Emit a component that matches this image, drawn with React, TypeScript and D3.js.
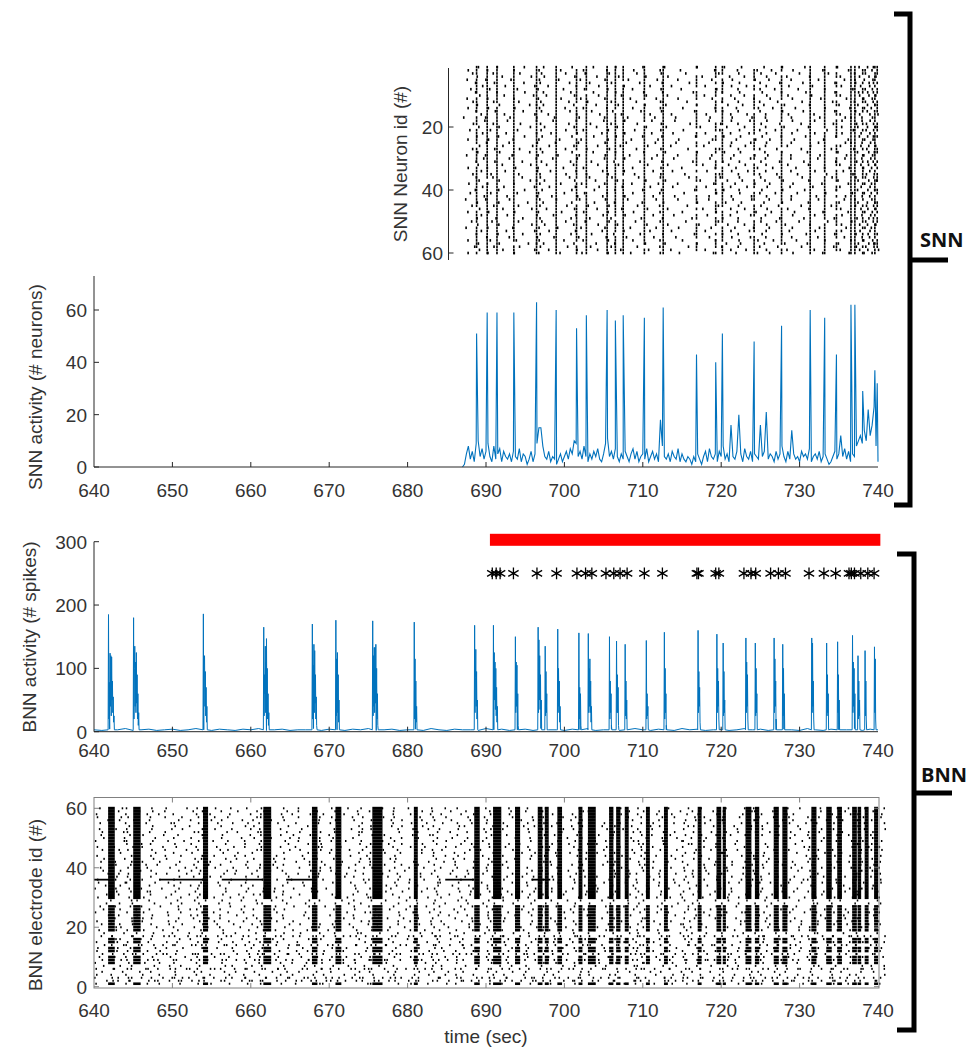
import React from "react";
import * as d3 from "d3";

// shared time axis
const timeTicks = [640, 650, 660, 670, 680, 690, 700, 710, 720, 730, 740];

// SNN activity: baseline sampled every 0.25 s from 687 s, plus the network bursts
const snnStart = 687;
const snnStep = 0.25;
const snnBase = [
  0, 1, 5, 8, 3, 6, 2, 9, 10, 4, 7, 3, 6, 9, 4, 2, 8, 3, 5, 7,
  2, 6, 4, 3, 5, 2, 6, 4, 3, 7, 2, 5, 4, 1, 3, 6, 2, 5, 9, 15,
  15, 8, 4, 3, 6, 2, 4, 3, 1, 3, 5, 2, 4, 6, 3, 7, 5, 10, 9, 4,
  6, 3, 8, 4, 2, 5, 3, 6, 4, 7, 3, 2, 5, 9, 11, 4, 6, 3, 7, 4,
  2, 5, 3, 6, 4, 2, 5, 7, 3, 6, 2, 4, 5, 3, 7, 2, 4, 6, 3, 5,
  2, 18, 8, 4, 3, 5, 2, 6, 4, 3, 7, 2, 5, 3, 2, 4, 3, 1, 4, 2,
  5, 3, 1, 4, 6, 2, 7, 4, 3, 5, 2, 6, 4, 8, 3, 5, 2, 16, 4, 3,
  6, 20, 5, 2, 7, 4, 3, 6, 2, 5, 4, 3, 16, 4, 6, 21, 3, 5, 4, 2,
  6, 3, 5, 8, 4, 2, 6, 3, 14, 5, 3, 4, 2, 6, 4, 5, 3, 7, 2, 4,
  5, 3, 6, 2, 4, 5, 3, 1, 2, 4, 6, 3, 5, 12, 4, 7, 3, 6, 2, 5,
  4, 8, 10, 12, 9, 14, 10, 22, 12, 16, 23, 8, 2,
];
const snnPeakTimes = [
  688.8, 690.15, 691.4, 693.55, 696.45, 698.95, 701.55, 702.8, 705.45, 706.5,
  707.5, 710.2, 712.6, 716.85, 719.3, 720.15, 724.2, 727.7, 731.35, 733.2,
  734.7, 736.55, 737.05, 738.05, 739.6, 739.9,
];
const snnPeakValues = [
  51, 59, 59, 59, 63, 60, 53, 58, 60, 56,
  58, 57, 61, 43, 40, 51, 48, 54, 60, 57,
  43, 62, 62, 29, 37, 32,
];
const neuronOrder = [
  17, 43, 5, 29, 52, 11, 38, 24, 60, 2, 47, 33, 14, 56, 8, 41, 21, 35, 50, 3,
  27, 45, 12, 58, 19, 36, 6, 49, 31, 15, 54, 9, 40, 23, 1, 44, 28, 57, 13, 37,
  20, 51, 4, 32, 46, 10, 26, 59, 16, 39, 7, 53, 22, 34, 48, 18, 42, 30, 55, 25,
];
// where a spike sits inside its time bin (fraction of the bin)
const spikePhase = [
  0.14, 0.15, 0.92, 0.65, 0.35, 0.89, 0.79, 0.32, 0.38, 0.46,
  0.26, 0.43, 0.38, 0.32, 0.79, 0.5, 0.28, 0.84, 0.19, 0.71,
  0.69, 0.39, 0.93, 0.75, 0.1, 0.58, 0.2, 0.97, 0.49, 0.44,
  0.59, 0.23, 0.07, 0.81, 0.64, 0.06, 0.28, 0.62, 0.08, 0.99,
  0.86, 0.28, 0.03, 0.48, 0.25, 0.34, 0.21, 0.17, 0.06, 0.79,
  0.82, 0.14, 0.8,
];

// BNN activity: baseline once per second, bursts sampled every 0.05 s
const bnnBase = [
  3, 2, 4, 3, 5, 2, 3, 4, 2, 3, 4, 2, 3, 5, 3, 2, 4, 3, 2, 4,
  3, 5, 2, 3, 4, 2, 3, 3, 5, 2, 4, 3, 2, 4, 3, 5, 2, 3, 4, 2,
  3, 4, 2, 5, 3, 2, 4, 3, 3, 2, 5, 3, 4, 2, 3, 4, 2, 5, 3, 3,
  2, 4, 3, 5, 2, 3, 4, 2, 3, 5, 3, 2, 4, 3, 2, 5, 3, 4, 2, 3,
  4, 2, 3, 5, 3, 4, 2, 3, 4, 3, 2, 5, 3, 2, 4, 3, 3, 5, 2, 4, 3,
];
const bnnShapeStep = 0.05;
const bnnBurstOnsets = [
  641.8, 645.0, 653.9, 661.6, 667.8, 670.8, 675.5, 680.8, 688.5, 690.9,
  693.7, 696.6, 697.5, 699.1, 701.8, 703.0, 705.7, 706.6, 707.7, 710.4,
  712.7, 717.0, 719.4, 720.2, 723.1, 724.3, 726.7, 727.8, 731.5, 733.4,
  734.8, 736.7, 737.4, 738.3, 739.5,
];
const bnnBurstShapes = [
  [3, 185, 20, 78, 35, 124, 40, 120, 25, 118, 50, 80, 30, 55, 15, 25, 3],
  [3, 180, 20, 100, 135, 40, 110, 30, 125, 45, 90, 20, 60, 10, 30, 3],
  [3, 186, 30, 105, 120, 40, 95, 25, 70, 15, 40, 3],
  [3, 165, 25, 90, 60, 135, 30, 110, 147, 40, 100, 20, 60, 10, 30, 3],
  [3, 170, 20, 105, 60, 138, 30, 128, 45, 90, 20, 55, 10, 3],
  [3, 176, 25, 115, 40, 125, 30, 90, 15, 50, 3],
  [3, 175, 25, 120, 40, 133, 30, 133, 45, 138, 35, 100, 20, 60, 10, 3],
  [3, 173, 20, 115, 30, 80, 15, 40, 3],
  [3, 168, 30, 85, 130, 40, 95, 20, 50, 3],
  [3, 168, 30, 125, 50, 110, 35, 100, 25, 70, 15, 40, 3],
  [3, 150, 30, 110, 40, 105, 20, 60, 10, 3],
  [3, 165, 30, 145, 50, 120, 35, 90, 20, 50, 3],
  [3, 135, 25, 95, 30, 60, 3],
  [3, 162, 30, 100, 40, 80, 15, 40, 3],
  [3, 156, 20, 70, 30, 60, 10, 3],
  [3, 155, 30, 100, 40, 115, 30, 80, 15, 40, 3],
  [3, 150, 20, 80, 30, 60, 10, 3],
  [3, 143, 30, 90, 30, 70, 10, 3],
  [3, 138, 25, 80, 20, 50, 3],
  [3, 144, 20, 60, 25, 40, 3],
  [3, 157, 20, 100, 30, 60, 10, 3],
  [3, 160, 30, 95, 40, 70, 15, 3],
  [3, 154, 30, 100, 40, 80, 20, 3],
  [3, 140, 25, 95, 30, 50, 3],
  [3, 148, 30, 110, 40, 90, 20, 3],
  [3, 140, 25, 100, 30, 60, 3],
  [3, 148, 30, 115, 40, 80, 20, 3],
  [3, 138, 25, 100, 30, 60, 3],
  [3, 148, 30, 140, 40, 80, 20, 3],
  [3, 140, 25, 90, 30, 60, 3],
  [3, 142, 30, 90, 25, 50, 3],
  [3, 152, 30, 110, 40, 100, 20, 60, 3],
  [3, 120, 20, 80, 25, 50, 3],
  [3, 128, 25, 80, 20, 3],
  [3, 134, 30, 115, 20, 3],
];
// how long each burst shows up in the electrode raster (s)
const bnnBurstDur = [
  0.85, 0.95, 0.65, 1.0, 0.7, 0.75, 1.3, 0.5, 0.7, 1.05,
  0.65, 0.6, 0.5, 0.6, 0.5, 1.0, 0.55, 0.55, 0.5, 0.5,
  0.5, 0.5, 0.6, 0.4, 0.75, 0.55, 0.65, 0.65, 0.65, 0.7,
  0.6, 0.6, 0.45, 0.5, 0.5,
];
const bnnSpikesPerUnit = 10; // raster spikes per second per unit of baseline activity
// electrode firing order for background spikes (low electrodes are busier)
const electrodeOrder = [
  33, 8, 51, 19, 4, 42, 27, 58, 12, 36, 1, 47, 22, 15, 55, 30, 6, 40, 25, 53,
  10, 44, 17, 60, 3, 35, 49, 21, 13, 57, 28, 7, 46, 38, 2, 52, 18, 31, 11, 59,
  24, 43, 5, 34, 50, 14, 26, 39, 9, 56, 20, 45, 16, 29, 54, 37, 23, 48, 32, 41,
  3, 11, 6, 14, 2, 9, 17,
];
const burstElectrodes = [
  1, 8, 9, 10, 12, 13, 15, 16, 19, 20, 21, 22, 23, 24, 25, 26, 27,
  30, 31, 32, 33, 34, 35, 36, 37, 38, 39, 40, 41, 42, 43, 44, 45, 46, 47, 48, 49, 50,
  51, 52, 53, 54, 55, 56, 57, 58, 59, 60,
];
const toneElectrode = 36;
const toneStart = [640, 648.4, 656.3, 664.5, 684.8, 695.8];
const toneEnd = [642, 654, 661.6, 667.8, 688.5, 698.2];

// stimulation period and detected responses
const stimStart = 690.5;
const stimEnd = 740.3;
const stimLevel = 303;
const starLevel = 250;
const starTimes = [
  690.8, 691.3, 691.8, 693.5, 696.5, 699.0, 701.6, 702.7, 703.5, 705.3,
  706.3, 707.1, 708.0, 710.2, 712.5, 716.9, 717.1, 719.3, 719.7, 722.9,
  723.8, 724.4, 726.3, 727.3, 728.2, 731.2, 733.1, 734.6, 736.3, 736.6,
  737.0, 737.8, 738.7, 739.5,
];

const snnActTicks = [0, 20, 40, 60];
const snnIdTicks = [20, 40, 60];
const bnnActTicks = [0, 100, 200, 300];
const bnnIdTicks = [0, 20, 40, 60];

const blue = "#0072BD";
const axisCol = "#262626";
const fontFam = "'Liberation Sans', Arial, sans-serif";

export default function App() {
  const x = d3.scaleLinear().domain([640, 740]).range([94, 878]);
  const ySnnId = d3.scaleLinear().domain([0, 60]).range([64, 253]);
  const ySnnAct = d3.scaleLinear().domain([0, 60]).range([467, 310]);
  const yBnnAct = d3.scaleLinear().domain([0, 300]).range([731.7, 541.7]);
  const yBnnId = d3.scaleLinear().domain([0, 60]).range([986.7, 808.3]);

  const snnBins = snnBase.map((v, i) => ({ t: snnStart + i * snnStep, v }));
  const snnPeaks = snnPeakTimes.map((t, i) => ({ t, v: snnPeakValues[i] }));
  const snnSeries = [...snnBins, ...snnPeaks].sort((a, b) => a.t - b.t);

  const bnnSeries = [
    ...bnnBase.map((v, i) => ({ t: 640 + i, v })),
    ...bnnBurstOnsets.flatMap((t0, k) =>
      bnnBurstShapes[k].map((v, j) => ({ t: t0 + j * bnnShapeStep, v }))
    ),
  ].sort((a, b) => a.t - b.t);

  // SNN raster: each bin holds as many spiking neurons as the activity count
  const snnDots: { t: number; n: number }[] = [];
  let cur = 0;
  snnBins.forEach((d) => {
    for (let j = 0; j < Math.round(d.v); j++) {
      const ph = spikePhase[cur % spikePhase.length];
      snnDots.push({ t: d.t + (ph - 0.5) * snnStep, n: neuronOrder[cur % neuronOrder.length] });
      cur++;
    }
  });
  snnPeaks.forEach((d) => {
    for (let j = 0; j < Math.round(d.v); j++) {
      snnDots.push({ t: d.t, n: neuronOrder[cur % neuronOrder.length] });
      cur++;
    }
  });

  // BNN raster background spikes
  const bnnDots: { t: number; e: number }[] = [];
  let cur2 = 0;
  bnnBase.forEach((v, i) => {
    const c = v * bnnSpikesPerUnit;
    for (let j = 0; j < c; j++) {
      const ph = spikePhase[cur2 % spikePhase.length];
      bnnDots.push({ t: 640 + i + ph, e: electrodeOrder[cur2 % electrodeOrder.length] });
      cur2++;
    }
  });

  const snnLine = d3
    .line<{ t: number; v: number }>()
    .x((d) => x(d.t))
    .y((d) => ySnnAct(d.v));
  const bnnLine = d3
    .line<{ t: number; v: number }>()
    .x((d) => x(d.t))
    .y((d) => yBnnAct(d.v));
  const star = d3.symbol(d3.symbolAsterisk, 100)();

  const tickText = { fontSize: 19, fill: "#333", fontFamily: fontFam };
  const labelText = { fontSize: 19, fill: "#333", fontFamily: fontFam };
  const xAxisLabels = (yy: number) =>
    timeTicks.map((t) => (
      <text key={"xl" + yy + t} x={x(t)} y={yy} textAnchor="middle" {...tickText}>
        {t}
      </text>
    ));
  const bottomTicks = (yy: number, dir: number) =>
    timeTicks.slice(1, -1).map((t) => (
      <line key={"bt" + yy + t} x1={x(t)} x2={x(t)} y1={yy} y2={yy + dir * 5} stroke={axisCol} />
    ));

  return (
    <svg
      width={972}
      height={1047}
      style={{ position: "absolute", left: 0, top: 0, background: "#fff" }}
    >
      {/* SNN raster */}
      <g>
        {snnDots.map((d, i) => (
          <rect key={i} x={x(d.t) - 0.8} y={ySnnId(d.n) - 1.3} width={1.6} height={2.6} fill="#000" />
        ))}
        <line x1={448.5} x2={448.5} y1={68} y2={260} stroke={axisCol} />
        {snnIdTicks.map((v) => (
          <g key={"si" + v}>
            <line x1={448.5} x2={453.5} y1={ySnnId(v)} y2={ySnnId(v)} stroke={axisCol} />
            <text x={443} y={ySnnId(v)} dy="0.36em" textAnchor="end" {...tickText}>
              {v}
            </text>
          </g>
        ))}
        <text transform={`translate(400,164) rotate(-90)`} textAnchor="middle" dy="0.36em" {...labelText}>
          SNN Neuron id (#)
        </text>
      </g>

      {/* SNN activity */}
      <g>
        <path d={snnLine(snnSeries) || ""} fill="none" stroke={blue} strokeWidth={1.1} />
        <line x1={94} x2={94} y1={276} y2={467} stroke={axisCol} />
        <line x1={94} x2={878} y1={467} y2={467} stroke={axisCol} />
        {snnActTicks.map((v) => (
          <g key={"sa" + v}>
            <line x1={94} x2={99} y1={ySnnAct(v)} y2={ySnnAct(v)} stroke={axisCol} />
            <text x={87} y={ySnnAct(v)} dy="0.36em" textAnchor="end" {...tickText}>
              {v}
            </text>
          </g>
        ))}
        {bottomTicks(467, -1)}
        {xAxisLabels(497)}
        <text transform={`translate(35,387) rotate(-90)`} textAnchor="middle" dy="0.36em" {...labelText}>
          SNN activity (# neurons)
        </text>
      </g>

      {/* BNN activity */}
      <g>
        <rect
          x={x(stimStart)}
          y={yBnnAct(stimLevel) - 6}
          width={x(stimEnd) - x(stimStart)}
          height={12}
          fill="#ff0000"
        />
        {starTimes.map((t, i) => (
          <path key={"st" + i} d={star || ""} transform={`translate(${x(t)},${yBnnAct(starLevel)})`} fill="none" stroke="#000" strokeWidth={1.3} />
        ))}
        <path d={bnnLine(bnnSeries) || ""} fill="none" stroke={blue} strokeWidth={1} />
        <line x1={94} x2={94} y1={541.7} y2={731.7} stroke={axisCol} />
        <line x1={94} x2={878} y1={731.7} y2={731.7} stroke={axisCol} />
        {bnnActTicks.map((v) => (
          <g key={"ba" + v}>
            <line x1={94} x2={99} y1={yBnnAct(v)} y2={yBnnAct(v)} stroke={axisCol} />
            <text x={87} y={yBnnAct(v)} dy="0.36em" textAnchor="end" {...tickText}>
              {v}
            </text>
          </g>
        ))}
        {bottomTicks(731.7, -1)}
        {xAxisLabels(757)}
        <text transform={`translate(29,637) rotate(-90)`} textAnchor="middle" dy="0.36em" {...labelText}>
          BNN activity (# spikes)
        </text>
      </g>

      {/* BNN electrode raster */}
      <g>
        {bnnDots.map((d, i) => (
          <rect key={"bd" + i} x={x(d.t) - 0.7} y={yBnnId(d.e) - 1} width={1.5} height={2} fill="#000" />
        ))}
        {bnnBurstOnsets.map((t0, k) =>
          burstElectrodes.map((e) => (
            <rect
              key={"bb" + k + "-" + e}
              x={x(t0)}
              y={yBnnId(e) - (e >= 30 ? 1.5 : 1.3)}
              width={x(t0 + bnnBurstDur[k]) - x(t0)}
              height={e >= 30 ? 3.1 : 2.6}
              fill="#000"
            />
          ))
        )}
        {toneStart.map((t, i) => (
          <line
            key={"tn" + i}
            x1={x(t)}
            x2={x(toneEnd[i])}
            y1={yBnnId(toneElectrode)}
            y2={yBnnId(toneElectrode)}
            stroke="#000"
            strokeWidth={1.8}
          />
        ))}
        <rect x={94} y={797.5} width={785} height={190.5} fill="none" stroke="#808080" />
        {bnnIdTicks.map((v) => (
          <g key={"bi" + v}>
            <line x1={94} x2={99} y1={yBnnId(v)} y2={yBnnId(v)} stroke="#808080" />
            <line x1={879} x2={874} y1={yBnnId(v)} y2={yBnnId(v)} stroke="#808080" />
            <text x={87} y={yBnnId(v)} dy="0.36em" textAnchor="end" {...tickText}>
              {v}
            </text>
          </g>
        ))}
        {timeTicks.slice(1, -1).map((t) => (
          <g key={"bx" + t}>
            <line x1={x(t)} x2={x(t)} y1={988} y2={983} stroke="#808080" />
            <line x1={x(t)} x2={x(t)} y1={797.5} y2={802.5} stroke="#808080" />
          </g>
        ))}
        {xAxisLabels(1017)}
        <text transform={`translate(35,905) rotate(-90)`} textAnchor="middle" dy="0.36em" {...labelText}>
          BNN electrode  id (#)
        </text>
        <text x={486} y={1043} textAnchor="middle" {...labelText}>
          time (sec)
        </text>
      </g>

      {/* group brackets */}
      <g fill="none" stroke="#000" strokeWidth={5}>
        <path d="M894,14 H910 V505 H894" />
        <path d="M910,260 H948" />
        <path d="M897,554 H914 V1030 H897" />
        <path d="M914,793 H952" />
      </g>
      <text x={920} y={247} fontSize={20} fontWeight="bold" fontFamily="'Open Sans', sans-serif" fill="#111">
        SNN
      </text>
      <text x={921} y={782} fontSize={20} fontWeight="bold" fontFamily="'Open Sans', sans-serif" fill="#111">
        BNN
      </text>
    </svg>
  );
}
